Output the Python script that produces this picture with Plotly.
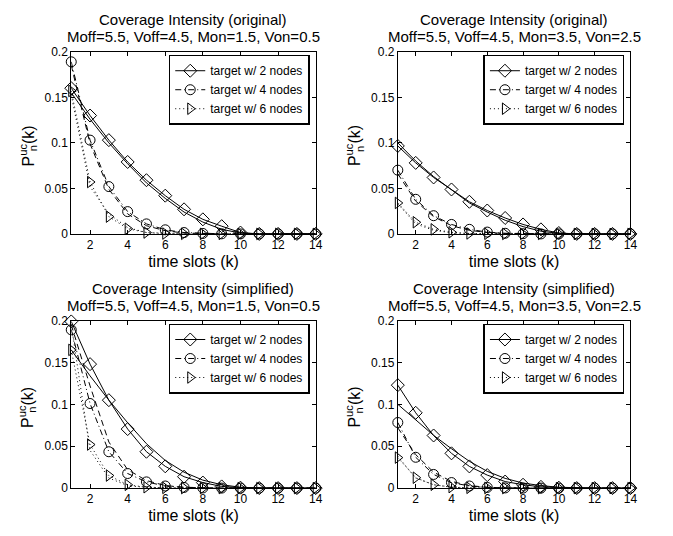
import plotly.graph_objects as go

# time slots
k = list(range(1, 15))

# ---- Coverage Intensity (original), Mon=1.5, Von=0.5 ----
orig_a_sim2 = [0.160, 0.130, 0.103, 0.079, 0.059, 0.042, 0.027, 0.016, 0.0085, 0.0015, 0, 0, 0, 0]
orig_a_ana2 = [0.155, 0.126, 0.100, 0.077, 0.056, 0.039, 0.024, 0.013, 0.005, 0.001, 0, 0, 0, 0]
orig_a_sim4 = [0.189, 0.103, 0.052, 0.0245, 0.011, 0.0045, 0.0015, 0.0005, 0.0001, 0, 0, 0, 0, 0]
orig_a_ana4 = [0.185, 0.099, 0.049, 0.022, 0.009, 0.0035, 0.001, 0.0003, 0, 0, 0, 0, 0, 0]
orig_a_sim6 = [0.157, 0.057, 0.019, 0.0057, 0.0015, 0.0004, 0.0001, 0, 0, 0, 0, 0, 0, 0]
orig_a_ana6 = [0.152, 0.052, 0.022, 0.007, 0.0015, 0.0003, 0, 0, 0, 0, 0, 0, 0, 0]

# ---- Coverage Intensity (original), Mon=3.5, Von=2.5 ----
orig_b_sim2 = [0.0966, 0.078, 0.062, 0.0488, 0.0353, 0.0257, 0.0175, 0.0104, 0.005, 0.001, 0, 0, 0, 0]
orig_b_ana2 = [0.100, 0.080, 0.063, 0.048, 0.034, 0.024, 0.015, 0.008, 0.003, 0.0005, 0, 0, 0, 0]
orig_b_sim4 = [0.070, 0.038, 0.020, 0.0104, 0.005, 0.002, 0.0007, 0.0002, 0, 0, 0, 0, 0, 0]
orig_b_ana4 = [0.066, 0.036, 0.019, 0.009, 0.004, 0.0015, 0.0005, 0.0001, 0, 0, 0, 0, 0, 0]
orig_b_sim6 = [0.034, 0.0128, 0.005, 0.0018, 0.0005, 0.0001, 0, 0, 0, 0, 0, 0, 0, 0]
orig_b_ana6 = [0.033, 0.011, 0.004, 0.0012, 0.0003, 0.0001, 0, 0, 0, 0, 0, 0, 0, 0]

# ---- Coverage Intensity (simplified), Mon=1.5, Von=0.5 ----
simp_a_sim2 = [0.199, 0.148, 0.105, 0.0705, 0.0434, 0.026, 0.0136, 0.0066, 0.002, 0.0005, 0, 0, 0, 0]
simp_a_ana2 = [0.165, 0.134, 0.105, 0.078, 0.053, 0.033, 0.019, 0.0095, 0.004, 0.001, 0.0002, 0, 0, 0]
simp_a_sim4 = [0.189, 0.101, 0.0434, 0.0174, 0.0074, 0.0025, 0.0008, 0.0002, 0, 0, 0, 0, 0, 0]
simp_a_ana4 = [0.195, 0.122, 0.055, 0.022, 0.009, 0.003, 0.001, 0.0003, 0, 0, 0, 0, 0, 0]
simp_a_sim6 = [0.165, 0.052, 0.015, 0.0039, 0.001, 0.0002, 0, 0, 0, 0, 0, 0, 0, 0]
simp_a_ana6 = [0.195, 0.045, 0.012, 0.003, 0.0008, 0.0002, 0, 0, 0, 0, 0, 0, 0, 0]

# ---- Coverage Intensity (simplified), Mon=3.5, Von=2.5 ----
simp_b_sim2 = [0.1229, 0.0899, 0.0628, 0.0415, 0.0259, 0.0155, 0.0078, 0.004, 0.0015, 0.0005, 0, 0, 0, 0]
simp_b_ana2 = [0.100, 0.081, 0.063, 0.047, 0.032, 0.020, 0.0116, 0.006, 0.003, 0.001, 0.0002, 0, 0, 0]
simp_b_sim4 = [0.0783, 0.0368, 0.0163, 0.0066, 0.0025, 0.0008, 0.0002, 0, 0, 0, 0, 0, 0, 0]
simp_b_ana4 = [0.072, 0.040, 0.019, 0.008, 0.003, 0.001, 0.0003, 0, 0, 0, 0, 0, 0, 0]
simp_b_sim6 = [0.0364, 0.0124, 0.004, 0.0012, 0.0003, 0.0001, 0, 0, 0, 0, 0, 0, 0, 0]
simp_b_ana6 = [0.038, 0.012, 0.004, 0.001, 0.0003, 0, 0, 0, 0, 0, 0, 0, 0, 0]

series_names = ["target w/ 2 nodes", "target w/ 4 nodes", "target w/ 6 nodes"]
title_top = ["Coverage Intensity (original)", "Coverage Intensity (original)",
             "Coverage Intensity (simplified)", "Coverage Intensity (simplified)"]
title_params = ["Moff=5.5, Voff=4.5, Mon=1.5, Von=0.5", "Moff=5.5, Voff=4.5, Mon=3.5, Von=2.5",
                "Moff=5.5, Voff=4.5, Mon=1.5, Von=0.5", "Moff=5.5, Voff=4.5, Mon=3.5, Von=2.5"]
x_label = "time slots (k)"
y_label_main = "P<sup>uc</sup>(k)"
y_label_sub = "n"
x_ticks = [2, 4, 6, 8, 10, 12, 14]
y_ticks = [0, 0.05, 0.1, 0.15, 0.2]
y_tick_text = ["0", "0.05", "0.1", "0.15", "0.2"]

panels = [
    (orig_a_sim2, orig_a_ana2, orig_a_sim4, orig_a_ana4, orig_a_sim6, orig_a_ana6),
    (orig_b_sim2, orig_b_ana2, orig_b_sim4, orig_b_ana4, orig_b_sim6, orig_b_ana6),
    (simp_a_sim2, simp_a_ana2, simp_a_sim4, simp_a_ana4, simp_a_sim6, simp_a_ana6),
    (simp_b_sim2, simp_b_ana2, simp_b_sim4, simp_b_ana4, simp_b_sim6, simp_b_ana6),
]

W, H = 673, 536
FONT = "Liberation Sans, Arial, Helvetica, sans-serif"

# axes boxes in pixels: (left, right, top, bottom)
boxes = [(72, 319, 46, 233), (402, 637, 46, 233), (72, 319, 322, 494), (402, 637, 322, 494)]

styles = [
    dict(symbol="diamond-open", size=10, sim_dash="solid", ana_dash="solid"),
    dict(symbol="circle-open", size=10, sim_dash="6px,3px,1px,3px", ana_dash="6px,4px"),
    dict(symbol="triangle-right-open", size=10, sim_dash="1px,3px", ana_dash="1px,3px"),
]

fig = go.Figure()
for i, data in enumerate(panels):
    xa = "x" if i == 0 else f"x{i+1}"
    ya = "y" if i == 0 else f"y{i+1}"
    lg = "legend" if i == 0 else f"legend{i+1}"
    for j in range(3):
        sim, ana = data[2 * j], data[2 * j + 1]
        st = styles[j]
        fig.add_trace(go.Scatter(
            x=k, y=ana, mode="lines", showlegend=False, hoverinfo="skip",
            line=dict(color="black", width=1, dash=st["ana_dash"]),
            xaxis=xa, yaxis=ya))
        fig.add_trace(go.Scatter(
            x=k, y=sim, mode="lines+markers", name=series_names[j], legend=lg,
            line=dict(color="black", width=1, dash=st["sim_dash"]),
            marker=dict(symbol=st["symbol"], size=st["size"], color="black",
                        line=dict(width=1, color="black")),
            cliponaxis=False, xaxis=xa, yaxis=ya))

layout = dict(
    width=W, height=H, margin=dict(l=0, r=0, t=0, b=0),
    paper_bgcolor="white", plot_bgcolor="white",
    font=dict(family=FONT, size=12, color="black"),
    showlegend=True,
)
annotations = []
for i, (l, r, t, b) in enumerate(boxes):
    sfx = "" if i == 0 else str(i + 1)
    layout["xaxis" + sfx] = dict(
        domain=[l / W, r / W], anchor="y" + sfx, range=[1, 14],
        tickvals=x_ticks, ticks="inside", ticklen=4, tickcolor="black",
        showline=True, linecolor="black", linewidth=1, mirror="allticks",
        showgrid=False, zeroline=False, tickfont=dict(size=12),
        title=dict(text=x_label, font=dict(size=16), standoff=4),
    )
    layout["yaxis" + sfx] = dict(
        domain=[1 - b / H, 1 - t / H], anchor="x" + sfx, range=[0, 0.2],
        tickvals=y_ticks, ticktext=y_tick_text, ticks="inside", ticklen=4, tickcolor="black",
        showline=True, linecolor="black", linewidth=1, mirror="allticks",
        showgrid=False, zeroline=False, tickfont=dict(size=12),
    )
    layout["legend" if i == 0 else f"legend{i+1}"] = dict(
        x=(r - 6) / W, y=1 - (t + 3) / H, xanchor="right", yanchor="top",
        xref="paper", yref="paper",
        bgcolor="white", bordercolor="black", borderwidth=1.5,
        font=dict(size=12), tracegroupgap=0, itemwidth=30,
    )
    cx = (l + r) / 2 / W
    annotations.append(dict(text=title_top[i], x=cx, y=1 - (t - 33) / H, xref="paper", yref="paper",
                            showarrow=False, font=dict(size=15), xanchor="center", yanchor="middle"))
    annotations.append(dict(text=title_params[i], x=cx, y=1 - (t - 16) / H, xref="paper", yref="paper",
                            showarrow=False, font=dict(size=15), xanchor="center", yanchor="middle"))
    # y-axis label: P with stacked superscript "uc" and subscript "n"
    ylx = l - 45
    ycy = (t + b) / 2 + 3
    annotations.append(dict(text=y_label_main, x=ylx / W, y=1 - ycy / H, xref="paper", yref="paper",
                            showarrow=False, font=dict(size=16), textangle=-90,
                            xanchor="center", yanchor="middle"))
    annotations.append(dict(text=y_label_sub, x=(ylx + 6) / W, y=1 - (ycy + 3) / H,
                            xref="paper", yref="paper",
                            showarrow=False, font=dict(size=11), textangle=-90,
                            xanchor="center", yanchor="middle"))
layout["annotations"] = annotations
fig.update_layout(**layout)
fig.write_html("out.html")
